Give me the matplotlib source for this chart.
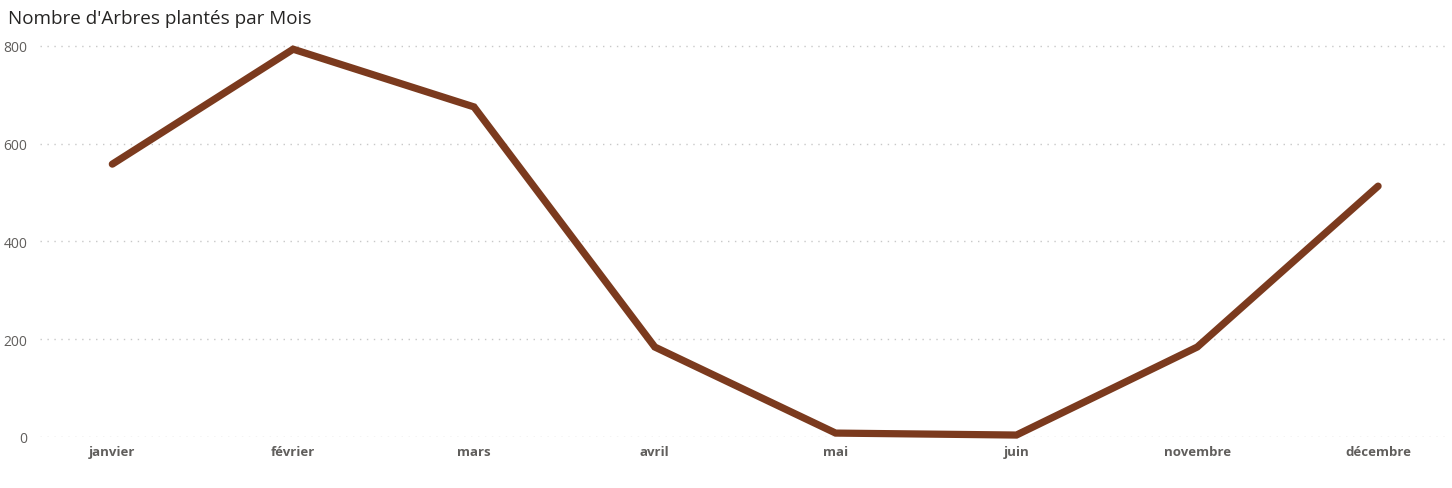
import matplotlib
matplotlib.use("Agg")
import matplotlib.pyplot as plt

months = ["janvier", "février", "mars", "avril", "mai", "juin", "novembre", "décembre"]
trees = [558, 793, 675, 184, 8, 4, 184, 513]
yticks = [0, 200, 400, 600, 800]
title = "Nombre d'Arbres plantés par Mois"

fig = plt.figure(figsize=(14.52, 4.89), dpi=100)
ax = fig.add_axes([40/1452, 51/489, 1405/1452, 401/489])

x = list(range(len(months)))
ax.plot(x, trees, color="#7B3A1E", linewidth=5.2, solid_capstyle="round",
        solid_joinstyle="miter", clip_on=False, zorder=3)

ax.set_xlim(-0.4, 7.37)
ax.set_ylim(0, 820)
ax.set_yticks(yticks)
ax.set_yticklabels([str(v) for v in yticks], fontsize=10, color="#605E5C",
                   fontfamily="Open Sans")
ax.set_xticks(x)
ax.set_xticklabels(months, fontsize=9.5, color="#605E5C", fontweight="bold",
                   fontfamily="Open Sans")
ax.tick_params(axis="both", length=0)
ax.tick_params(axis="y", pad=9)
ax.tick_params(axis="x", pad=6)
ax.grid(axis="y", linestyle=(0, (1, 4)), color="#C8C8C8", linewidth=1)
ax.set_axisbelow(True)
for s in ax.spines.values():
    s.set_visible(False)

fig.text(8/1452, 1 - 19/489, title, fontsize=13.6, color="#252423",
         fontfamily="Open Sans", va="center", ha="left")

fig.savefig("out.png", dpi=100, facecolor="white")
